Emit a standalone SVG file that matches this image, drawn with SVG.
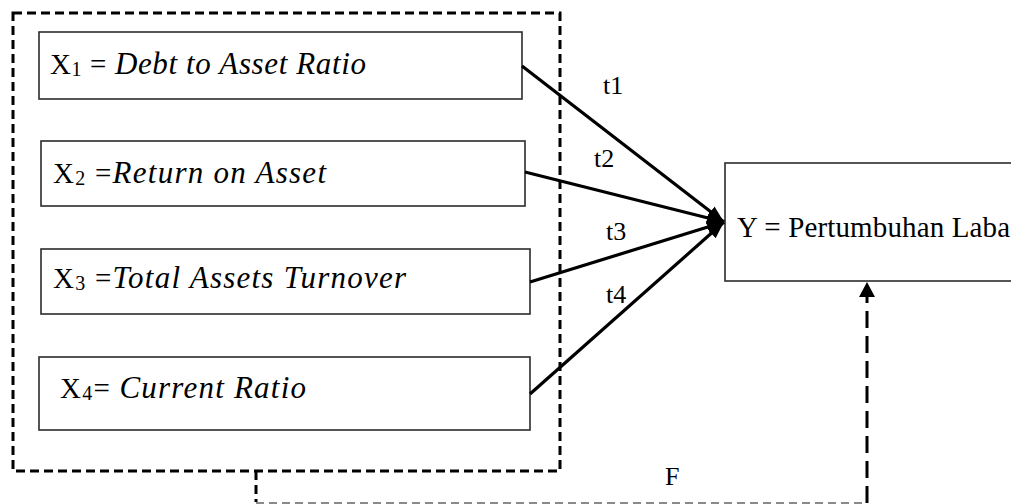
<svg xmlns="http://www.w3.org/2000/svg" width="1011" height="504" viewBox="0 0 1011 504">
<style>
.box{fill:#fff;stroke:#2b2b2b;stroke-width:1.6}
.lbl{font-family:"Liberation Serif","Times New Roman",serif;font-size:29px;fill:#000}
.it{font-style:italic;font-size:31px}
.sub{font-size:20px}
.tl{font-family:"Liberation Serif","Times New Roman",serif;font-size:26px;fill:#000}
.arrow{stroke:#000;stroke-width:3.2;fill:none;marker-end:url(#ah)}
.dash{fill:none;stroke:#000;stroke-width:3;stroke-dasharray:9 5}
.vdash{fill:none;stroke:#000;stroke-width:3;stroke-dasharray:17 8}
</style>
<defs>
<marker id="ah" markerUnits="userSpaceOnUse" markerWidth="18" markerHeight="16" refX="17" refY="8" orient="auto">
<path d="M0,1.5 L17,8 L0,14.5 z" fill="#000"/>
</marker>
<marker id="ahu" markerUnits="userSpaceOnUse" markerWidth="16" markerHeight="18" refX="15" refY="9" orient="auto">
<path d="M0,1 L15,9 L0,17 z" fill="#000"/>
</marker>
</defs>
<rect width="1011" height="504" fill="#fff"/>
<g id="n-group">
<rect x="13" y="13" width="547" height="458" class="dash"/>
</g>
<g id="n-x1">
<rect x="39" y="32" width="483" height="67" class="box"/>
<text x="50" y="74" class="lbl" textLength="316" lengthAdjust="spacing"><tspan>X</tspan><tspan class="sub" dy="2">1</tspan><tspan dy="-2"> = </tspan><tspan class="it">Debt to Asset Ratio</tspan></text>
</g>
<g id="n-x2">
<rect x="41" y="141" width="484" height="65" class="box"/>
<text x="53" y="183" class="lbl" textLength="273" lengthAdjust="spacing"><tspan>X</tspan><tspan class="sub" dy="2">2</tspan><tspan dy="-2"> =</tspan><tspan class="it">Return on Asset</tspan></text>
</g>
<g id="n-x3">
<rect x="41" y="249" width="489" height="65" class="box"/>
<text x="53" y="288" class="lbl" textLength="353" lengthAdjust="spacing"><tspan>X</tspan><tspan class="sub" dy="2">3</tspan><tspan dy="-2"> =</tspan><tspan class="it">Total Assets Turnover</tspan></text>
</g>
<g id="n-x4">
<rect x="39" y="357" width="491" height="73" class="box"/>
<text x="60" y="398" class="lbl" textLength="246" lengthAdjust="spacing"><tspan>X</tspan><tspan class="sub" dy="2">4</tspan><tspan dy="-2">= </tspan><tspan class="it">Current Ratio</tspan></text>
</g>
<g id="n-y">
<rect x="725" y="163" width="300" height="118" class="box"/>
<text x="737" y="237" class="lbl" textLength="273" lengthAdjust="spacing">Y = Pertumbuhan Laba</text>
</g>
<g id="connectors">
<line x1="522" y1="66" x2="724" y2="222" class="arrow"/>
<line x1="525" y1="172" x2="724" y2="222" class="arrow"/>
<line x1="530" y1="282" x2="724" y2="222" class="arrow"/>
<line x1="530" y1="394" x2="724" y2="222" class="arrow"/>
<text x="603" y="94" class="tl">t1</text>
<text x="594" y="167" class="tl">t2</text>
<text x="606" y="240" class="tl">t3</text>
<text x="606" y="303" class="tl">t4</text>
<line x1="256" y1="471" x2="256" y2="502" class="dash"/>
<line x1="256" y1="503" x2="867" y2="503" stroke="#8a8a8a" stroke-width="2" stroke-dasharray="8 5"/>
<line x1="867" y1="503" x2="867" y2="282" class="vdash" marker-end="url(#ahu)"/>
<text x="665" y="485" class="tl">F</text>
</g>
</svg>
